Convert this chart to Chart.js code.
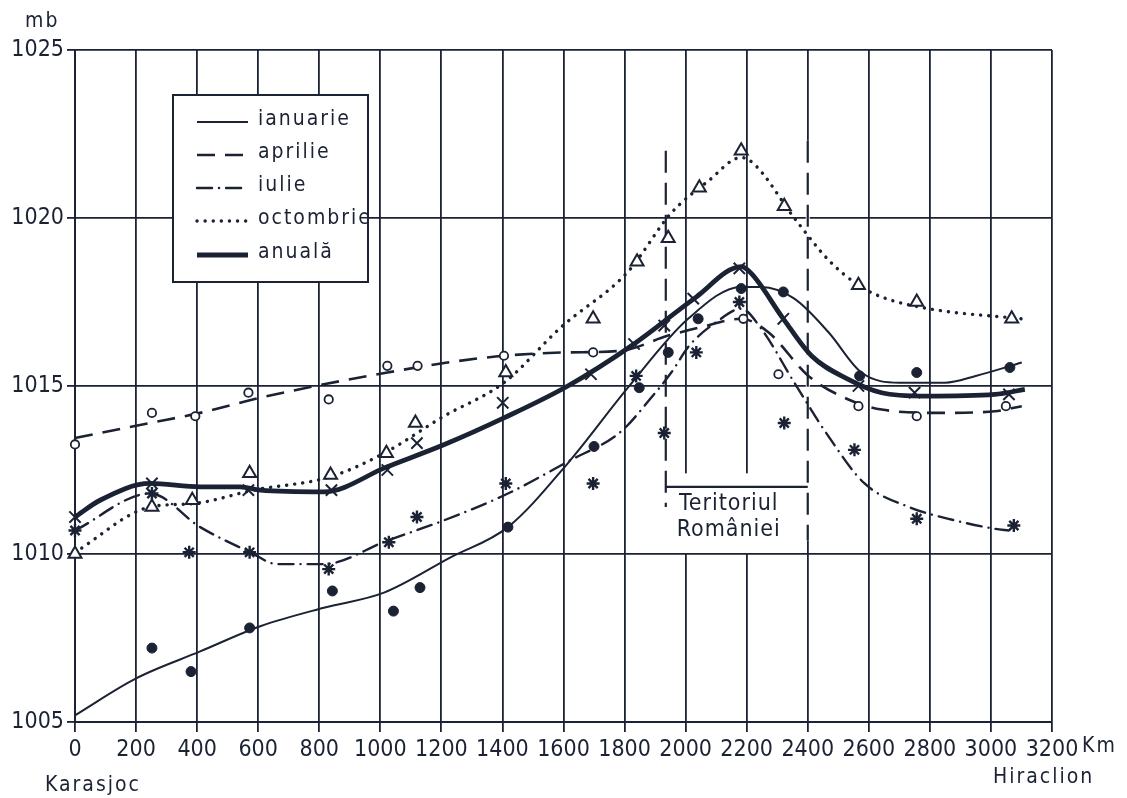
<!DOCTYPE html>
<html>
<head>
<meta charset="utf-8">
<script src="https://cdn.jsdelivr.net/npm/chart.js@4.4.1/dist/chart.umd.min.js"></script>
<style>
  html, body { margin: 0; padding: 0; background: #fff; }
  #wrap { width: 1127px; height: 798px; position: relative; }
</style>
</head>
<body>
<div id="wrap"><canvas id="chart"></canvas></div>
<script>
const FONT = "'DejaVu Sans Condensed', 'Liberation Sans Narrow', 'DejaVu Sans', sans-serif";
const INK = "#1b2233";

/* ── axes ── */
const kmTicks = [0, 200, 400, 600, 800, 1000, 1200, 1400, 1600, 1800, 2000, 2200, 2400, 2600, 2800, 3000, 3200];
const mbTicks = [1005, 1010, 1015, 1020, 1025];
const seriesNames = ["ianuarie", "aprilie", "iulie", "octombrie", "anuală"];
const territoryKm = [1935, 2400];

/* ── smoothed curves [km, mb] ── */
const janCurve = [[0,1005.2],[200,1006.3],[410,1007.1],[607,1007.85],[815,1008.4],[1012,1008.85],[1230,1009.9],[1418,1010.8],[1614,1012.7],[1811,1014.95],[2008,1017.0],[2182,1017.95],[2248,1017.95],[2356,1017.6],[2468,1016.6],[2576,1015.4],[2700,1015.1],[2850,1015.1],[2950,1015.3],[3101,1015.7]];
const aprCurve = [[0,1013.45],[246,1013.9],[410,1014.2],[607,1014.65],[815,1015.05],[1023,1015.4],[1220,1015.7],[1405,1015.9],[1614,1016.0],[1789,1016.05],[1943,1016.5],[2051,1016.75],[2182,1017.0],[2271,1016.6],[2402,1015.3],[2533,1014.6],[2642,1014.3],[2839,1014.2],[3013,1014.25],[3101,1014.4]];
const julCurve = [[0,1010.7],[246,1011.8],[410,1010.8],[574,1010.05],[662,1009.7],[815,1009.7],[1023,1010.4],[1208,1011.0],[1418,1011.8],[1614,1012.75],[1789,1013.65],[1887,1014.65],[1953,1015.4],[2012,1016.2],[2100,1016.9],[2182,1017.3],[2248,1016.7],[2356,1015.1],[2468,1013.5],[2586,1012.1],[2731,1011.4],[2882,1011.0],[3013,1010.75],[3059,1010.7]];
const octCurve = [[0,1010.05],[246,1011.4],[387,1011.5],[585,1011.9],[837,1012.3],[1012,1013.0],[1208,1014.1],[1405,1015.1],[1592,1016.75],[1811,1018.4],[1953,1020.15],[2074,1021.1],[2182,1021.8],[2225,1021.6],[2356,1020.0],[2468,1018.75],[2566,1018.0],[2642,1017.65],[2796,1017.3],[3101,1017.0]];
const annCurve = [[0,1011.1],[82,1011.6],[246,1012.1],[410,1012.0],[541,1012.0],[607,1011.9],[815,1011.85],[1023,1012.6],[1208,1013.25],[1405,1014.05],[1614,1015.0],[1831,1016.25],[2028,1017.6],[2182,1018.55],[2215,1018.35],[2320,1017.0],[2412,1015.9],[2533,1015.2],[2642,1014.8],[2783,1014.7],[3013,1014.75],[3111,1014.9]];

/* ── station values [km, mb] ── */
const janDots = [[252,1007.2],[380,1006.5],[572,1007.8],[843,1008.9],[1043,1008.3],[1130,1009.0],[1418,1010.8],[1700,1013.2],[1848,1014.95],[1943,1016.0],[2041,1017.0],[2182,1017.9],[2320,1017.8],[2570,1015.3],[2757,1015.4],[3062,1015.55]];
const aprDots = [[0,1013.26],[252,1014.2],[394,1014.1],[568,1014.8],[831,1014.6],[1023,1015.6],[1122,1015.6],[1405,1015.9],[1697,1016.0],[2189,1017.0],[2304,1015.35],[2566,1014.4],[2757,1014.1],[3049,1014.4]];
const julDots = [[0,1010.7],[252,1011.8],[374,1010.05],[572,1010.05],[831,1009.55],[1028,1010.35],[1120,1011.1],[1411,1012.1],[1697,1012.1],[1838,1015.3],[1930,1013.6],[2035,1016.0],[2176,1017.5],[2323,1013.9],[2553,1013.1],[2757,1011.05],[3075,1010.85]];
const octDots = [[0,1010.0],[252,1011.4],[384,1011.6],[572,1012.4],[837,1012.35],[1020,1013.0],[1115,1013.9],[1411,1015.4],[1697,1017.0],[1841,1018.7],[1943,1019.4],[2045,1020.9],[2182,1022.0],[2323,1020.35],[2566,1018.0],[2757,1017.5],[3068,1017.0]];
const annDots = [[0,1011.1],[252,1012.1],[568,1011.9],[840,1011.9],[1023,1012.5],[1120,1013.3],[1401,1014.5],[1690,1015.35],[1831,1016.25],[1930,1016.8],[2025,1017.6],[2176,1018.5],[2320,1017.0],[2566,1015.0],[2750,1014.8],[3059,1014.75]];

const toXY = (arr) => arr.map(([x, y]) => ({ x, y }));

function curve(label, data, width, dash, cap) {
  return {
    label,
    data: toXY(data),
    showLine: true,
    borderColor: INK,
    borderWidth: width,
    borderDash: dash,
    borderCapStyle: cap || "butt",
    cubicInterpolationMode: "monotone",
    pointRadius: 0,
    order: 2,
    clip: false,
  };
}

function marks(data, style, radius, fill, width) {
  return {
    data: toXY(data),
    showLine: false,
    pointStyle: style,
    pointRadius: radius,
    pointBackgroundColor: fill,
    pointBorderColor: INK,
    pointBorderWidth: width,
    order: 1,
    clip: false,
  };
}

const curves = [
  curve(seriesNames[0], janCurve, 2, []),
  curve(seriesNames[1], aprCurve, 2.6, [18, 10]),
  curve(seriesNames[2], julCurve, 2.4, [15, 7, 0.1, 7], "round"),
  curve(seriesNames[3], octCurve, 3.4, [0.1, 8], "round"),
  curve(seriesNames[4], annCurve, 4.8, []),
];

/* ── legend, territory bracket and loose labels ── */
const extras = {
  id: "extras",
  beforeDatasetsDraw(chart) {
    const { ctx, scales: { x, y } } = chart;
    const xl = x.getPixelForValue(territoryKm[0]);
    const xr = x.getPixelForValue(territoryKm[1]);
    ctx.save();
    ctx.fillStyle = "#fff";
    const yTop = y.getPixelForValue(1012.4), yBot = y.getPixelForValue(1010) - 1;
    ctx.fillRect(xl + 1, yTop, xr - xl - 2, yBot - yTop);
    const y1 = y.getPixelForValue(1022.3), y2 = y.getPixelForValue(1010.4);
    ctx.fillRect(xr - 2, y1, 4, y2 - y1);

    ctx.strokeStyle = INK;
    ctx.lineWidth = 2.2;
    ctx.setLineDash([22, 10]);
    ctx.beginPath();
    ctx.moveTo(xl, y.getPixelForValue(1022.0));
    ctx.lineTo(xl, y.getPixelForValue(1011.4));
    ctx.moveTo(xr, y1);
    ctx.lineTo(xr, y2);
    ctx.stroke();
    ctx.setLineDash([]);
    const yb = y.getPixelForValue(1012.0);
    ctx.beginPath();
    ctx.moveTo(xl, yb);
    ctx.lineTo(xr, yb);
    ctx.stroke();

    ctx.fillStyle = INK;
    ctx.font = "23px " + FONT;
    ctx.letterSpacing = "1px";
    ctx.textAlign = "center";
    ctx.textBaseline = "middle";
    const cx = (xl + xr) / 2 - 8;
    ctx.fillText("Teritoriul", cx, yb + 17);
    ctx.fillText("României", cx, yb + 43);
    ctx.restore();
  },
  afterDraw(chart) {
    const { ctx } = chart;
    ctx.save();
    // legend box
    ctx.fillStyle = "#fff";
    ctx.fillRect(173, 95, 195, 187);
    ctx.strokeStyle = INK;
    ctx.lineWidth = 2;
    ctx.strokeRect(173, 95, 195, 187);
    const rows = [122, 155, 188, 221, 255];
    curves.forEach((ds, i) => {
      ctx.save();
      ctx.lineWidth = ds.borderWidth;
      ctx.setLineDash(ds.borderDash);
      ctx.lineCap = ds.borderCapStyle;
      ctx.beginPath();
      ctx.moveTo(197, rows[i]);
      ctx.lineTo(248, rows[i]);
      ctx.stroke();
      ctx.restore();
      ctx.fillStyle = INK;
      ctx.font = "21px " + FONT;
      ctx.letterSpacing = "2px";
      ctx.textBaseline = "middle";
      ctx.textAlign = "left";
      ctx.fillText(ds.label, 258, rows[i] - 2);
    });

    ctx.font = "21px " + FONT;
    ctx.letterSpacing = "2px";
    ctx.fillStyle = INK;
    ctx.textBaseline = "middle";
    ctx.textAlign = "left";
    ctx.fillText("mb", 25, 22);
    ctx.fillText("Km", 1082, 747);
    ctx.fillText("Karasjoc", 45, 786);
    ctx.fillText("Hiraclion", 993, 778);
    ctx.restore();
  },
};

new Chart(document.getElementById("chart"), {
  type: "scatter",
  data: {
    datasets: [
      ...curves,
      marks(janDots, "circle", 5, INK, 1),
      marks(aprDots, "circle", 4.2, "#fff", 1.8),
      marks(julDots, "star", 6.5, INK, 2.4),
      marks(octDots, "triangle", 7.5, "#fff", 2),
      marks(annDots, "crossRot", 8, INK, 2),
    ],
  },
  options: {
    responsive: true,
    maintainAspectRatio: false,
    animation: false,
    layout: { padding: { left: 0, top: 50, right: 75, bottom: 0 } },
    plugins: { legend: { display: false }, tooltip: { enabled: false } },
    scales: {
      x: {
        type: "linear",
        min: kmTicks[0],
        max: kmTicks[kmTicks.length - 1],
        afterBuildTicks: (s) => { s.ticks = kmTicks.map((v) => ({ value: v })); },
        afterFit: (s) => { s.height = 76; },
        grid: { color: INK, lineWidth: 1.8, tickLength: 10 },
        border: { color: INK, width: 2 },
        ticks: {
          autoSkip: false,
          maxRotation: 0,
          padding: 4,
          color: INK,
          font: { family: FONT, size: 23 },
          callback: (v) => String(v),
        },
      },
      y: {
        min: mbTicks[0],
        max: mbTicks[mbTicks.length - 1],
        afterBuildTicks: (s) => { s.ticks = mbTicks.map((v) => ({ value: v })); },
        afterFit: (s) => { s.width = 75; },
        grid: { color: INK, lineWidth: 1.8, tickLength: 8 },
        border: { color: INK, width: 2 },
        ticks: {
          padding: 3,
          color: INK,
          font: { family: FONT, size: 23 },
          callback: (v) => String(v),
        },
      },
    },
  },
  plugins: [extras],
});
</script>
</body>
</html>
